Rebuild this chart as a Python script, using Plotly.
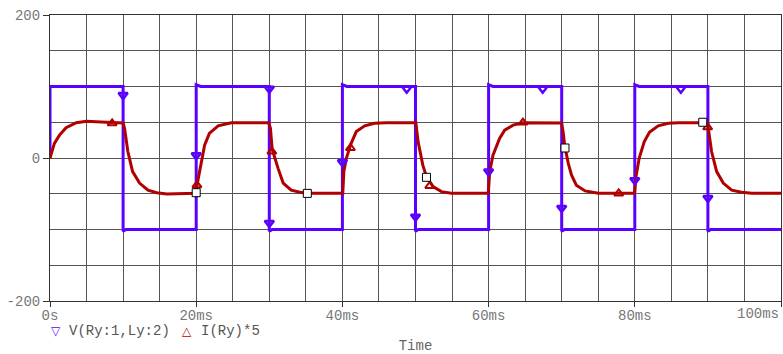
import plotly.graph_objects as go

# ---- data (time in ms) ----
v_t = [0, 0, 10, 10, 10.4, 20, 20, 20.6, 30, 30, 30.4, 40, 40, 40.6,
       50, 50, 50.4, 60, 60, 60.6, 70, 70, 70.4, 80, 80, 80.6, 90, 90, 90.4, 100]
v_val = [0, 100, 100, -102.5, -100, -100, 102.5, 100, 100, -102.5, -100, -100, 102.5, 100,
         100, -102.5, -100, -100, 102.5, 100, 100, -102.5, -100, -100, 102.5, 100, 100, -102.5, -100, -100]

i_t = [0, 0.6, 1.3, 2.2, 3.6, 5, 7, 10,
       10.2, 10.65, 11.3, 12.25, 13.4, 14.6, 16, 19.9,
       20.2, 20.6, 21.15, 21.8, 23, 24.8, 29.9,
       30.15, 30.4, 31.2, 31.9, 33, 34.2, 35.2, 40.05,
       40.2, 40.55, 41.2, 41.9, 43.05, 44.4, 46, 50.05,
       50.35, 51, 51.5, 52.4, 53.55, 54.9, 59.95,
       60.15, 60.6, 61.5, 62.2, 63.35, 64.7, 69.98,
       70.2, 70.45, 70.67, 70.9, 71.35, 72, 73.2, 75, 79.95,
       80.2, 80.6, 81.3, 82, 83.2, 84.6, 86, 89.95,
       90.05, 90.5, 91.2, 92.1, 93.25, 94.6, 96, 100]
i_val = [0, 20.5, 32, 42.4, 49.4, 51.5, 50.3, 49,
         41.5, 9, -19, -35, -45, -48.5, -50.3, -49.4,
         -33, -10, 18, 34.5, 45, 49.4, 49.4,
         42, 12, -14.5, -35, -45, -48, -49.4, -49.4,
         -19, 0, 20.5, 37, 45, 48.5, 49.4, 49.4,
         23, -10, -26, -40, -47, -49.4, -49.4,
         -19, 4, 27.5, 39, 46, 49.4, 49,
         36, 14, 4, -7.5, -24, -38, -46, -49.4, -49.4,
         -24, 0, 23, 36, 45, 48.5, 49.4, 49.4,
         41.5, 9, -19, -35, -45, -48, -49.4, -49.4]

v_mark_t = [10, 20, 30, 30, 40, 48.8, 50, 60, 67.4, 70, 80, 86.3, 90]
v_mark_val = [88, 4, 97, -91, -6, 97, -82, -19, 97, -70, -31, 97, -56]

i_mark_t = [8.5, 20.1, 30.35, 41.1, 51.95, 64.7, 77.8, 89.97]
i_mark_val = [48.5, -38, 9, 14, -39, 49.5, -49.5, 43]

sq_t = [20, 35.2, 51.5, 70.45, 89.3]
sq_val = [-48.5, -49.5, -27, 14, 50]

x_tickvals = [0, 20, 40, 60, 80, 100]
x_ticktext = ["0s", "20ms", "40ms", "60ms", "80ms", "100ms"]
y_tickvals = [-200, 0, 200]
y_ticktext = ["-200", "0", "200"]

series_names = ["V(Ry:1,Ly:2)", "I(Ry)*5"]

V_COLOR = "#5a00ff"
I_COLOR = "#b00000"
FONT = "Liberation Mono"

fig = go.Figure()
fig.add_trace(go.Scatter(x=v_t, y=v_val, mode="lines", line=dict(color=V_COLOR, width=3),
                         name=series_names[0], showlegend=False, hoverinfo="skip"))
fig.add_trace(go.Scatter(x=i_t, y=i_val, mode="lines", line=dict(color=I_COLOR, width=3),
                         name=series_names[1], showlegend=False, hoverinfo="skip"))
fig.add_trace(go.Scatter(x=v_mark_t, y=v_mark_val, mode="markers", name=series_names[0],
                         showlegend=False,
                         marker=dict(symbol="triangle-down-open", size=8, color=V_COLOR,
                                     line=dict(width=2.5, color=V_COLOR))))
fig.add_trace(go.Scatter(x=i_mark_t, y=i_mark_val, mode="markers", name=series_names[1],
                         showlegend=False,
                         marker=dict(symbol="triangle-up-open", size=8, color=I_COLOR,
                                     line=dict(width=2, color=I_COLOR))))
fig.add_trace(go.Scatter(x=sq_t, y=sq_val, mode="markers", showlegend=False,
                         marker=dict(symbol="square", size=8, color="white",
                                     line=dict(width=1, color="black"))))

# pixel helpers for layout of the legend row (plot area: x 50..781, y 15..301)
def px_x(p):
    return (p - 50) / 731.0

def px_y(p):
    return (301 - p) / 286.0

legend_y = px_y(331)
anns = [
    dict(text="▽", x=px_x(56), xanchor="center"),
    dict(text=series_names[0], x=px_x(67), xanchor="left"),
    dict(text="△", x=px_x(187), xanchor="center"),
    dict(text=series_names[1], x=px_x(199), xanchor="left"),
]
colors = [V_COLOR, "#555555", I_COLOR, "#555555"]
fonts = ["DejaVu Sans", FONT, "DejaVu Sans", FONT]
sizes = [12, 14, 12, 14]
annotations = []
for a, c, f, s in zip(anns, colors, fonts, sizes):
    a.update(xref="paper", yref="paper", y=legend_y, yanchor="middle", showarrow=False,
             font=dict(family=f, size=s, color=c))
    annotations.append(a)
# last x tick label kept inside the canvas (right aligned at the axis end)
annotations.append(dict(text=x_ticktext[-1], x=x_tickvals[-1], xref="x", xanchor="right",
                        y=px_y(314), yref="paper", yanchor="middle", showarrow=False,
                        font=dict(family=FONT, size=14, color="#777777")))

fig.update_layout(
    width=783, height=354,
    margin=dict(l=50, r=2, t=15, b=53, autoexpand=False),
    paper_bgcolor="white", plot_bgcolor="white",
    font=dict(family=FONT, size=14, color="#666666"),
    showlegend=False,
    annotations=annotations,
)
fig.update_xaxes(
    range=[0, 100], tickvals=x_tickvals, ticktext=x_ticktext[:-1] + [""],
    showgrid=True, gridcolor="#555555", gridwidth=1,
    minor=dict(dtick=5, showgrid=True, gridcolor="#555555", gridwidth=1),
    showline=True, linecolor="#333333", linewidth=1, mirror=True,
    ticks="outside", ticklen=5, tickcolor="#333333", zeroline=False,
    ticklabelstandoff=-4,
    title=dict(text="Time", standoff=20, font=dict(family=FONT, size=14, color="#666666")),
    automargin=False, tickfont=dict(family=FONT, size=14, color="#777777"),
)
fig.update_yaxes(
    range=[-200, 200], tickvals=y_tickvals, ticktext=y_ticktext,
    showgrid=True, gridcolor="#555555", gridwidth=1,
    minor=dict(tickvals=[-150, -100, -50, 50, 100, 150], showgrid=True, gridcolor="#555555", gridwidth=1),
    showline=True, linecolor="#333333", linewidth=1, mirror=True,
    ticks="outside", ticklen=6, tickcolor="#333333", zeroline=False,
    automargin=False, tickfont=dict(family=FONT, size=14, color="#777777"),
)

fig.write_html("out.html")
